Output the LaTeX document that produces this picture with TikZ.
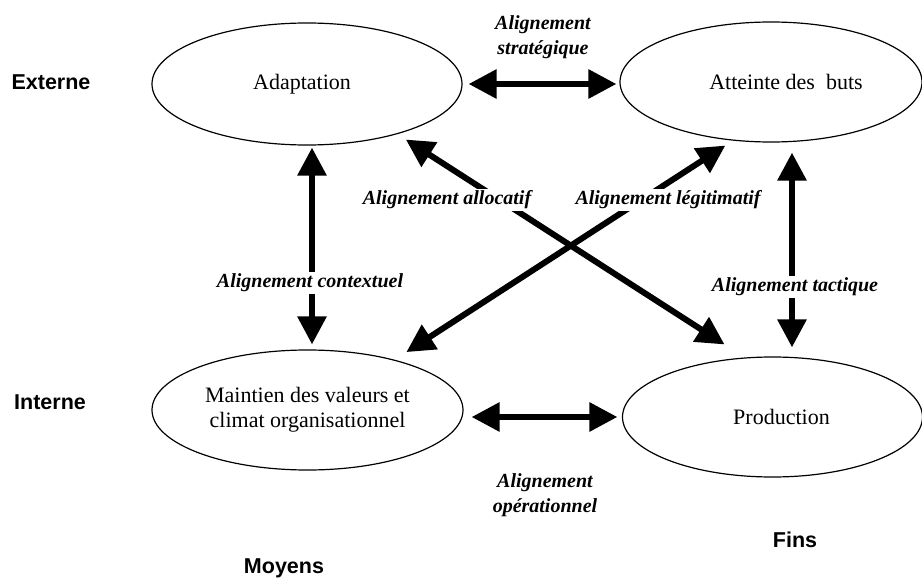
\documentclass[tikz,border=0pt]{standalone}
\usepackage{fontspec}
\setmainfont{Liberation Serif}
\setsansfont{Liberation Sans}
\usetikzlibrary{shapes.geometric,arrows.meta}
\begin{document}
\begin{tikzpicture}[x=1pt, y=-1pt,
    every node/.style={inner sep=0pt},
    bloc/.style={shape=ellipse, draw=black, line width=1.2pt, align=center, font=\fontsize{22}{25}\selectfont},
    fleche/.style={line width=6pt, {Triangle[length=28pt,width=28pt]}-{Triangle[length=28pt,width=28pt]}},
    lien/.style={fill=white, inner sep=2pt, align=center, font=\fontsize{20}{25}\selectfont\bfseries\itshape},
    axe/.style={font=\fontsize{21.5}{25}\selectfont\sffamily\bfseries}]
    \useasboundingbox (0,0) rectangle (922,578);
    \node[bloc, minimum width=310pt, minimum height=122pt] (A) at (307,84) {Adaptation\hspace*{10pt}};
    \node[bloc, minimum width=302pt, minimum height=120pt] (B) at (771,82) {\hspace*{30pt}Atteinte des~ buts};
    \node[bloc, minimum width=311pt, minimum height=120pt] (M) at (307.5,410) {Maintien des valeurs et\\climat organisationnel};
    \node[bloc, minimum width=300pt, minimum height=120pt] (P) at (772.5,417) {\hspace*{18pt}Production};
    \draw[fleche, shorten <=6pt, shorten >=3pt] (A.east) -- (A.east -| B.west);
    \draw[fleche, shorten <=8pt, shorten >=4.5pt] (M.east |- P.west) -- (P.west);
    \draw[fleche, shorten <=2pt, shorten >=5pt] ([xshift=5pt]A.south) -- ([xshift=4.5pt]M.north);
    \draw[fleche, shorten <=10pt, shorten >=9pt] ([xshift=21pt]B.south) -- ([xshift=19.5pt]P.north);
    \draw[fleche, shorten <=24pt, shorten >=10pt] (P.115) -- (A.-29);
    \draw[fleche, shorten <=14pt, shorten >=9pt] (M.30) -- (B.-123);
    \node[lien] (ls) at (543,37) {Alignement\\stratégique};
    \node[lien] (lo) at (545,495) {Alignement\\opérationnel};
    \node[lien] (la) at (447,200) {Alignement allocatif};
    \node[lien] (ll) at (668,200) {Alignement légitimatif};
    \node[lien] (lc) at (310,283) {Alignement contextuel};
    \node[lien] (lt) at (795,287) {Alignement tactique};
    \node[axe] (ext) at (51,82) {Externe};
    \node[axe] (int) at (50,402) {Interne};
    \node[axe] (moy) at (284,568) {Moyens};
    \node[axe] (fin) at (795,540) {Fins};
\end{tikzpicture}
\end{document}
